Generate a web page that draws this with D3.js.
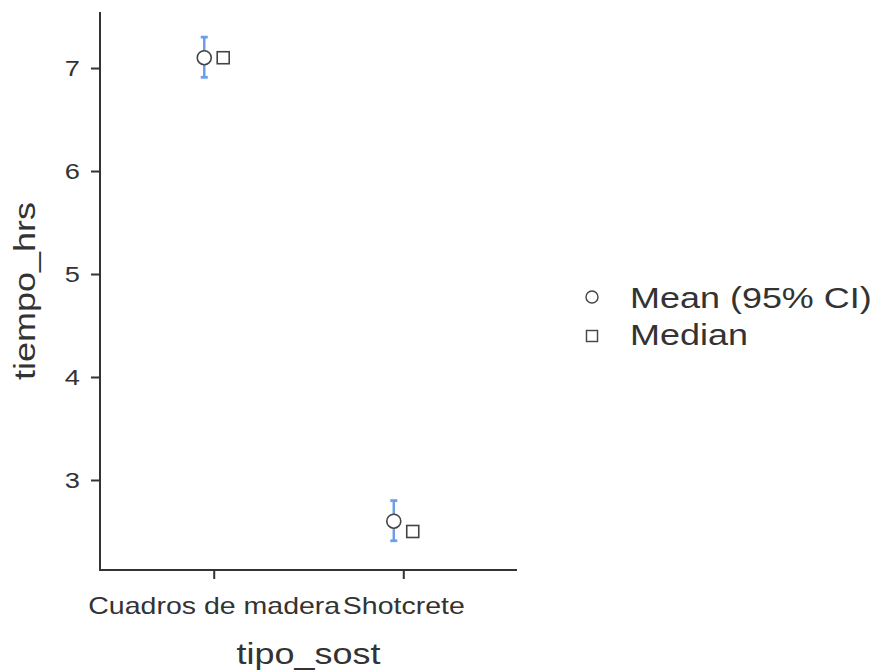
<!DOCTYPE html>
<html>
<head>
<meta charset="utf-8">
<script src="https://cdn.jsdelivr.net/npm/d3@7"></script>
<style>
  html, body { margin: 0; padding: 0; background: #fff; }
  svg { display: block; }
  text { font-family: "Liberation Sans", Arial, sans-serif; fill: #333; }
</style>
</head>
<body>
<svg id="chart" width="881" height="672"></svg>
<script>
// ---- data ----
const categories = ["Cuadros de madera", "Shotcrete"];
const means   = [7.10, 2.60];
const ciLow   = [6.91, 2.41];
const ciHigh  = [7.30, 2.80];
const medians = [7.10, 2.50];
const yTicks  = [3, 4, 5, 6, 7];
const legendLabels = ["Mean (95% CI)", "Median"];
const xTitle = "tipo_sost";
const yTitle = "tiempo_hrs";

// ---- layout ----
const W = 881, H = 672;
const plot = { left: 100, right: 517, top: 12, bottom: 570 };
const SX = 1.24; // horizontal stretch of glyphs

const svg = d3.select("#chart");

const x = d3.scalePoint().domain(categories).range([plot.left, plot.right]).padding(0.6);
const y = d3.scaleLinear().domain([2.126, 7.544]).range([plot.bottom, plot.top]);
const dodge = x.step() * 0.05;

function stretchText(sel, px, py, rot) {
  sel.attr("transform", `translate(${px},${py})` + (rot ? ` rotate(${rot})` : "") + ` scale(${SX},1)`);
  return sel;
}

// axes
const yAxis = d3.axisLeft(y).tickValues(yTicks).tickSize(9).tickFormat(d3.format("d"));
const xAxis = d3.axisBottom(x).tickSize(9);

const gy = svg.append("g").attr("transform", `translate(${plot.left},0)`).call(yAxis);
const gx = svg.append("g").attr("transform", `translate(0,${plot.bottom})`).call(xAxis);

[gy, gx].forEach(g => {
  g.select(".domain").attr("stroke", "#333").attr("stroke-width", 2);
  g.selectAll(".tick line").attr("stroke", "#333").attr("stroke-width", 2);
});
gy.select(".domain").attr("d", `M0,${plot.top}V${plot.bottom}H1`);
gx.select(".domain").attr("d", `M${plot.left},0H${plot.right}`);

gy.selectAll(".tick text").each(function(d) {
  const t = d3.select(this);
  t.attr("x", null).attr("dy", null)
   .attr("text-anchor", "end").attr("dominant-baseline", "central")
   .style("font-size", "22px").attr("fill", "#333");
  stretchText(t, -20, 0);
});
gx.selectAll(".tick text").each(function(d) {
  const t = d3.select(this);
  t.attr("y", null).attr("dy", null)
   .attr("text-anchor", "middle")
   .style("font-size", "23px").attr("fill", "#333");
  stretchText(t, 0, 44);
});
svg.selectAll(".tick text").attr("font-family", null);

// axis titles
stretchText(svg.append("text").text(xTitle).attr("text-anchor", "middle").style("font-size", "29px"),
  (plot.left + plot.right) / 2, 664);
stretchText(svg.append("text").text(yTitle).attr("text-anchor", "middle").style("font-size", "29px"),
  35, (plot.top + plot.bottom) / 2, -90);

// error bars
const blue = "#6d9eeb";
const capW = 3.5;
const eb = svg.append("g");
categories.forEach((c, i) => {
  const cx = x(c) - dodge;
  eb.append("line").attr("x1", cx).attr("x2", cx).attr("y1", y(ciLow[i])).attr("y2", y(ciHigh[i]))
    .attr("stroke", blue).attr("stroke-width", 2.5);
  [ciLow[i], ciHigh[i]].forEach(v => {
    eb.append("line").attr("x1", cx - capW).attr("x2", cx + capW).attr("y1", y(v)).attr("y2", y(v))
      .attr("stroke", blue).attr("stroke-width", 2.8);
  });
});

// means (circles)
svg.append("g").selectAll("circle").data(categories).join("circle")
  .attr("cx", d => x(d) - dodge).attr("cy", (d, i) => y(means[i])).attr("r", 7)
  .attr("fill", "#fff").attr("stroke", "#444").attr("stroke-width", 1.6);

// medians (squares)
const sq = 12;
svg.append("g").selectAll("rect").data(categories).join("rect")
  .attr("x", d => x(d) + dodge - sq / 2).attr("y", (d, i) => y(medians[i]) - sq / 2)
  .attr("width", sq).attr("height", sq)
  .attr("fill", "#fff").attr("stroke", "#444").attr("stroke-width", 1.6);

// legend
const lg = svg.append("g");
lg.append("circle").attr("cx", 592).attr("cy", 297).attr("r", 6)
  .attr("fill", "#fff").attr("stroke", "#444").attr("stroke-width", 1.4);
lg.append("rect").attr("x", 592 - 5.5).attr("y", 336 - 5.5).attr("width", 11).attr("height", 11)
  .attr("fill", "#fff").attr("stroke", "#444").attr("stroke-width", 1.4);
legendLabels.forEach((lab, i) => {
  stretchText(lg.append("text").text(lab).style("font-size", "29px").attr("dominant-baseline", "central"),
    630, 298 + i * 37);
});
</script>
</body>
</html>
